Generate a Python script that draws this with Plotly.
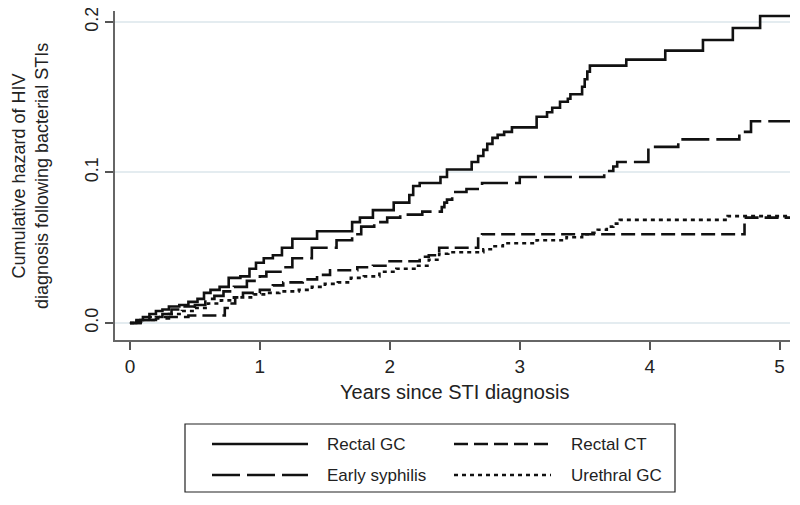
import plotly.graph_objects as go

# ---- data ----
rectal_gc_x = [0, 0.05, 0.1, 0.15, 0.2, 0.25, 0.3, 0.38, 0.45, 0.52, 0.57, 0.62, 0.69, 0.76, 0.85,
               0.92, 0.97, 1.03, 1.1, 1.17, 1.25, 1.44, 1.71, 1.77, 1.87, 2.03, 2.15, 2.18, 2.23,
               2.39, 2.44, 2.63, 2.68, 2.72, 2.75, 2.79, 2.83, 2.88, 2.94, 3.13, 3.21, 3.25, 3.31,
               3.37, 3.39, 3.48, 3.5, 3.52, 3.54, 3.82, 4.12, 4.41, 4.64, 4.85, 5.08]
rectal_gc_y = [0, 0.002, 0.004, 0.006, 0.008, 0.009, 0.011, 0.012, 0.014, 0.016, 0.020, 0.022,
               0.024, 0.030, 0.031, 0.036, 0.040, 0.043, 0.045, 0.050, 0.056, 0.061, 0.067, 0.070,
               0.075, 0.080, 0.085, 0.091, 0.093, 0.097, 0.102, 0.107, 0.111, 0.115, 0.119, 0.123,
               0.125, 0.127, 0.130, 0.137, 0.140, 0.143, 0.147, 0.149, 0.152, 0.157, 0.162, 0.167,
               0.171, 0.175, 0.181, 0.188, 0.196, 0.204, 0.204]

rectal_ct_x = [0, 0.05, 0.12, 0.2, 0.3, 0.45, 0.73, 0.77, 0.81, 0.87, 1.0, 1.1, 1.18, 1.33, 1.44,
               1.54, 1.75, 1.87, 1.98, 2.23, 2.3, 2.38, 2.68, 2.71, 4.73, 5.08]
rectal_ct_y = [0, 0.001, 0.002, 0.003, 0.004, 0.005, 0.010, 0.013, 0.017, 0.020, 0.022, 0.025,
               0.027, 0.029, 0.032, 0.035, 0.037, 0.038, 0.041, 0.044, 0.045, 0.050, 0.057, 0.059,
               0.070, 0.070]

syphilis_x = [0, 0.08, 0.15, 0.25, 0.32, 0.4, 0.5, 0.58, 0.65, 0.72, 0.8, 0.9, 1.0, 1.05, 1.17,
              1.25, 1.4, 1.59, 1.71, 1.78, 1.88, 1.98, 2.08, 2.25, 2.4, 2.42, 2.44, 2.48, 2.59,
              2.71, 3.0, 3.65, 3.72, 3.75, 3.99, 4.22, 4.69, 4.78, 5.08]
syphilis_y = [0, 0.002, 0.004, 0.006, 0.009, 0.011, 0.012, 0.016, 0.018, 0.021, 0.024, 0.028,
              0.031, 0.034, 0.037, 0.043, 0.050, 0.055, 0.059, 0.064, 0.067, 0.070, 0.072, 0.074,
              0.077, 0.080, 0.082, 0.087, 0.089, 0.093, 0.097, 0.101, 0.104, 0.107, 0.117, 0.122,
              0.127, 0.134, 0.134]

urethral_x = [0, 0.1, 0.2, 0.3, 0.4, 0.5, 0.6, 0.7, 0.8, 0.95, 1.05, 1.15, 1.3, 1.4, 1.5, 1.6,
              1.7, 1.8, 1.92, 2.05, 2.2, 2.3, 2.38, 2.45, 2.72, 2.79, 2.87, 3.13, 3.36, 3.48, 3.56,
              3.6, 3.67, 3.72, 3.77, 4.6, 5.08]
urethral_y = [0, 0.002, 0.004, 0.006, 0.008, 0.010, 0.013, 0.015, 0.017, 0.019, 0.020, 0.021,
              0.022, 0.024, 0.026, 0.027, 0.030, 0.031, 0.034, 0.036, 0.038, 0.042, 0.046, 0.047,
              0.049, 0.051, 0.053, 0.055, 0.057, 0.059, 0.060, 0.062, 0.064, 0.066, 0.0685, 0.071,
              0.071]

series_names = ["Rectal GC", "Rectal CT", "Early syphilis", "Urethral GC"]
x_ticks = [0, 1, 2, 3, 4, 5]
y_ticks = [0.0, 0.1, 0.2]
y_tick_labels = ["0.0", "0.1", "0.2"]
x_title = "Years since STI diagnosis"
y_title = "Cumulative hazard of HIV<br>diagnosis following bacterial STIs"

# ---- styles ----
INK = "#111111"
TXT = "#222222"
dashes = {
    "Rectal GC": "solid",
    "Rectal CT": "14px,6px",
    "Early syphilis": "28px,7px",
    "Urethral GC": "4px,4px",
}
FONT = "Liberation Sans, Arial, sans-serif"

data = {
    "Rectal GC": (rectal_gc_x, rectal_gc_y),
    "Rectal CT": (rectal_ct_x, rectal_ct_y),
    "Early syphilis": (syphilis_x, syphilis_y),
    "Urethral GC": (urethral_x, urethral_y),
}

# the page body has an 8px default margin; the figure is sized to fit the 800x505 window
OFF = 8
W, H = 800 - OFF, 505 - OFF
PL, PR, PT, PB = 115, 790, 11, 340   # plot area in window pixels

fig = go.Figure()
for name in ["Urethral GC", "Rectal CT", "Early syphilis", "Rectal GC"]:
    xs, ys = data[name]
    fig.add_trace(go.Scatter(
        x=xs, y=ys, mode="lines", name=name, line_shape="hv",
        line=dict(color=INK, width=2.6, dash=dashes[name]),
        showlegend=False, hoverinfo="x+y+name",
    ))

fig.update_layout(
    width=W, height=H,
    margin=dict(l=PL - OFF, r=W - (PR - OFF), t=PT - OFF, b=H - (PB - OFF), pad=0),
    paper_bgcolor="white", plot_bgcolor="white",
    font=dict(family=FONT, size=18, color=TXT),
    showlegend=False,
)
fig.update_xaxes(
    range=[-0.115, 5.08], tickvals=x_ticks, ticks="outside", ticklen=8, tickwidth=1.5,
    tickcolor="#555555", showline=True, linecolor="#666666", linewidth=2,
    showgrid=False, zeroline=False, tickfont=dict(size=19, color=TXT),
    automargin=False, ticklabeloverflow="allow",
)
fig.update_yaxes(
    range=[-0.0113, 0.2073], tickvals=y_ticks, ticktext=y_tick_labels, tickangle=-90,
    ticks="outside", ticklen=8, tickwidth=1.5, tickcolor="#555555",
    showline=True, linecolor="#666666", linewidth=2,
    showgrid=True, gridcolor="#e4ecf0", gridwidth=1.5, zeroline=False,
    tickfont=dict(size=18, color=TXT), automargin=False, ticklabeloverflow="allow",
)

def px_x(p):
    return (p - PL) / float(PR - PL)

def px_y(p):
    return (PB - p) / float(PB - PT)

# axis titles
fig.add_annotation(xref="paper", yref="paper", x=px_x(455), y=px_y(392), text=x_title,
                   showarrow=False, xanchor="center", yanchor="middle",
                   font=dict(size=20, color=TXT, family=FONT))
fig.add_annotation(xref="paper", yref="paper", x=px_x(30), y=px_y(176), text=y_title,
                   showarrow=False, xanchor="center", yanchor="middle", textangle=-90,
                   font=dict(size=18, color=TXT, family=FONT))

# ---- legend drawn as a boxed 2x2 key ----
fig.add_shape(type="rect", xref="paper", yref="paper",
              x0=px_x(185), x1=px_x(675), y0=px_y(492), y1=px_y(424),
              line=dict(color="#222222", width=1.2), fillcolor="white")

legend_layout = [
    ("Rectal GC", 212, 308, 325, 444),
    ("Rectal CT", 454, 551, 569, 444),
    ("Early syphilis", 212, 308, 325, 475),
    ("Urethral GC", 454, 551, 569, 475),
]
for name, lx0, lx1, tx, ly in legend_layout:
    fig.add_shape(type="line", xref="paper", yref="paper",
                  x0=px_x(lx0), x1=px_x(lx1), y0=px_y(ly), y1=px_y(ly),
                  line=dict(color=INK, width=2.6, dash=dashes[name]))
    fig.add_annotation(xref="paper", yref="paper", x=px_x(tx), y=px_y(ly),
                       text=name, showarrow=False, xanchor="left", yanchor="middle",
                       font=dict(size=17, color=TXT, family=FONT))

fig.write_html("out.html")
